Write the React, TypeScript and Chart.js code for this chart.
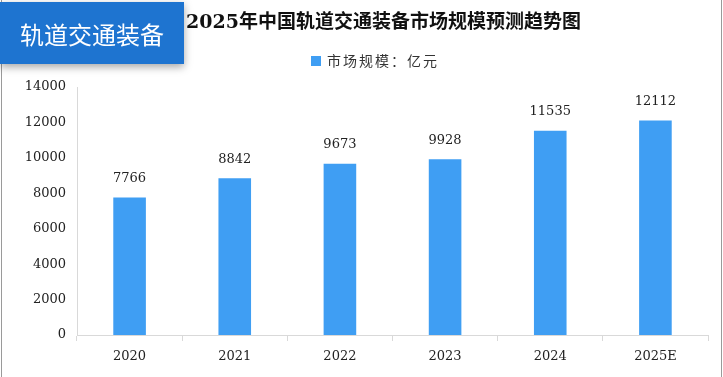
import React, { useEffect, useRef } from "react";
import { Chart, registerables } from "chart.js";

Chart.register(...registerables);

const categories = ["2020", "2021", "2022", "2023", "2024", "2025E"];
const marketSize = [7766, 8842, 9673, 9928, 11535, 12112];
const seriesName = "市场规模：亿元";
const chartTitle = "2025年中国轨道交通装备市场规模预测趋势图";
const bannerText = "轨道交通装备";
const yTicks = [0, 2000, 4000, 6000, 8000, 10000, 12000, 14000];

const BAR_COLOR = "#3f9ef3";
const NUM_FONT = "13px 'DejaVu Serif', 'Noto Sans CJK SC', serif";

const decorPlugin = {
  id: "decor",
  beforeDraw(chart: any) {
    const ctx = chart.ctx;
    ctx.save();
    ctx.fillStyle = "#ffffff";
    ctx.fillRect(0, 0, chart.width, chart.height);
    ctx.strokeStyle = "#9a9a9a";
    ctx.lineWidth = 1;
    ctx.beginPath();
    ctx.moveTo(1.5, 0);
    ctx.lineTo(1.5, chart.height);
    ctx.moveTo(721.5, 0);
    ctx.lineTo(721.5, chart.height);
    ctx.stroke();
    ctx.restore();
  },
  afterDraw(chart: any) {
    const ctx = chart.ctx;
    ctx.save();
    // banner
    ctx.shadowColor = "rgba(0,0,0,0.35)";
    ctx.shadowBlur = 8;
    ctx.shadowOffsetY = 3;
    ctx.fillStyle = "#1e74d0";
    ctx.fillRect(0, 2, 184, 62);
    ctx.shadowColor = "transparent";
    ctx.fillStyle = "#ffffff";
    ctx.font = "24px 'Noto Sans CJK SC', sans-serif";
    ctx.textAlign = "center";
    ctx.textBaseline = "middle";
    ctx.fillText(bannerText, 92, 35);
    // title
    ctx.fillStyle = "#111111";
    ctx.font = "bold 19px 'DejaVu Serif', 'Noto Sans CJK SC', serif";
    ctx.textAlign = "left";
    ctx.fillText(chartTitle, 186, 23);
    // legend
    ctx.fillStyle = BAR_COLOR;
    ctx.fillRect(311, 56, 10, 10);
    ctx.fillStyle = "#333333";
    ctx.font = "14px 'Noto Sans CJK SC', sans-serif";
    (ctx as any).letterSpacing = "2px";
    ctx.textAlign = "left";
    ctx.fillText(seriesName, 327, 61);
    (ctx as any).letterSpacing = "0px";
    // value labels
    const meta = chart.getDatasetMeta(0);
    ctx.font = NUM_FONT;
    ctx.textAlign = "center";
    ctx.textBaseline = "middle";
    ctx.fillStyle = "#222222";
    meta.data.forEach((bar: any, i: number) => {
      ctx.fillText(String(marketSize[i]), bar.x, bar.y - 19);
    });
    ctx.restore();
  },
};

export default function App() {
  const ref = useRef<HTMLCanvasElement>(null);
  useEffect(() => {
    document.body.style.margin = "0";
    const chart = new Chart(ref.current!, {
      type: "bar",
      data: {
        labels: categories,
        datasets: [
          {
            label: seriesName,
            data: marketSize,
            backgroundColor: BAR_COLOR,
            barPercentage: 0.31,
            categoryPercentage: 1,
          },
        ],
      },
      options: {
        animation: false,
        responsive: false,
        maintainAspectRatio: false,
        layout: { padding: { left: 0, right: 15, top: 87, bottom: 0 } },
        plugins: { legend: { display: false }, title: { display: false }, tooltip: { enabled: false } },
        scales: {
          x: {
            offset: true,
            grid: { display: true, drawOnChartArea: false, drawTicks: true, tickLength: 6, color: "#d9d9d9", offset: true },
            border: { display: true, color: "#d9d9d9" },
            ticks: { color: "#222222", font: { family: "'DejaVu Serif', serif", size: 13 }, padding: 8 },
            afterFit(scale: any) {
              scale.height = 42;
            },
          },
          y: {
            min: 0,
            max: 14000,
            afterBuildTicks(scale: any) {
              scale.ticks = yTicks.map((v) => ({ value: v }));
            },
            grid: { display: false, drawTicks: false },
            border: { display: true, color: "#d9d9d9" },
            ticks: {
              color: "#222222",
              font: { family: "'DejaVu Serif', serif", size: 13 },
              padding: 11,
              callback: (v: any) => String(v),
            },
            afterFit(scale: any) {
              scale.width = 77;
            },
          },
        },
      },
      plugins: [decorPlugin],
    });
    return () => chart.destroy();
  }, []);
  return <canvas ref={ref} width={723} height={377} style={{ display: "block" }} />;
}
